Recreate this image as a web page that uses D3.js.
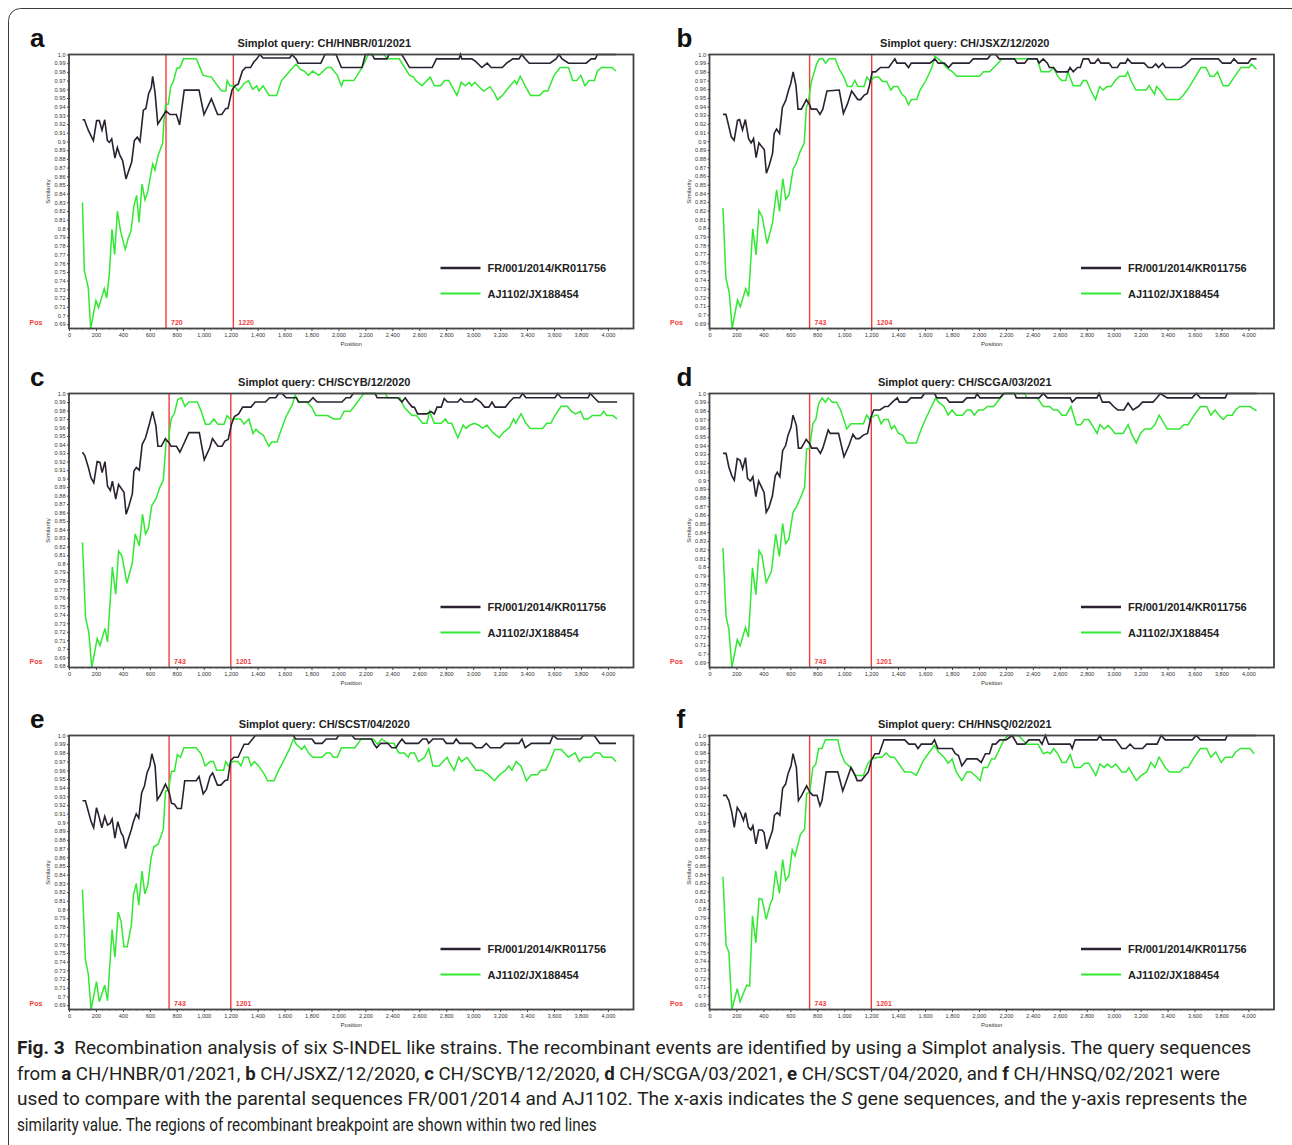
<!DOCTYPE html>
<html>
<head>
<meta charset="utf-8">
<script src="https://cdn.jsdelivr.net/npm/d3@7/dist/d3.min.js"></script>
<style>
  body { margin: 0; background: #fff; }
  svg { display: block; }
</style>
</head>
<body>
<script>
// similarity values, [position, similarity]
var frA = [[100,.925],[114,.925],[143,.913],[181,.901],[205,.924],[225,.924],[245,.913],[265,.925],[285,.901],[300,.899],[317,.903],[341,.881],[359,.893],[378,.884],[398,.878],[423,.857],[440,.865],[465,.876],[485,.901],[507,.905],[527,.900],[552,.936],[571,.938],[591,.955],[611,.962],[621,.975],[638,.957],[659,.920],[720,.935],[750,.931],[797,.931],[821,.919],[855,.959],[965,.959],[1002,.931],[1057,.949],[1103,.931],[1134,.931],[1164,.938],[1180,.938],[1210,.959],[1232,.964],[1256,.966],[1287,.981],[1311,.985],[1348,.985],[1370,.991],[1394,.995],[1416,1],[1440,.996],[1639,.996],[1655,1],[1685,.995],[1700,.99],[1869,.99],[1900,1],[1982,1],[2022,.985],[2175,.985],[2200,1],[2250,1],[2267,.995],[2360,.995],[2375,1],[2470,1],[2490,.995],[2528,.985],[2696,.985],[2727,.995],[2895,.995],[2905,1],[2915,.995],[2990,.995],[3018,.992],[3064,.985],[3104,.99],[3134,.985],[3217,.985],[3248,.99],[3294,.995],[3340,.995],[3361,1],[3386,.995],[3416,.99],[3570,.99],[3615,.995],[3637,1],[3660,.995],[3708,.99],[3839,.99],[3876,.995],[3906,.995],[3922,1],[4060,1]];
var ajA = [[100,.830],[114,.751],[143,.732],[161,.685],[200,.717],[220,.709],[262,.731],[280,.720],[299,.747],[319,.799],[339,.770],[359,.820],[383,.797],[418,.776],[440,.789],[460,.797],[482,.826],[502,.838],[520,.807],[542,.851],[564,.833],[584,.842],[606,.861],[621,.874],[638,.867],[661,.884],[695,.898],[705,.924],[717,.942],[737,.943],[755,.963],[775,.969],[800,.984],[823,.985],[850,.995],[945,.995],[996,.976],[1057,.974],[1103,.964],[1134,.958],[1164,.958],[1174,.970],[1195,.964],[1226,.964],[1256,.958],[1302,.967],[1333,.970],[1363,.960],[1394,.964],[1410,.958],[1440,.964],[1486,.953],[1541,.953],[1578,.970],[1639,.981],[1685,.989],[1716,.983],[1746,.981],[1777,.976],[1808,.981],[1854,.976],[1915,.985],[1946,.985],[1992,.976],[2022,.964],[2037,.970],[2114,.970],[2175,.985],[2221,1],[2340,1],[2360,.995],[2451,.995],[2528,.976],[2559,.974],[2574,.970],[2620,.964],[2681,.974],[2712,.964],[2758,.964],[2788,.970],[2819,.970],[2880,.953],[2911,.968],[2941,.964],[2972,.968],[2987,.964],[3012,.968],[3049,.962],[3079,.958],[3125,.963],[3156,.956],[3180,.948],[3217,.953],[3263,.962],[3309,.970],[3324,.966],[3349,.975],[3386,.964],[3425,.953],[3493,.953],[3524,.958],[3554,.958],[3600,.976],[3646,.985],[3708,.985],[3738,.970],[3769,.970],[3799,.976],[3830,.964],[3861,.970],[3900,.970],[3922,.981],[3953,.985],[4029,.985],[4060,.981]];

var frB = [[100,.931],[122,.931],[162,.905],[183,.901],[208,.924],[223,.925],[245,.913],[266,.925],[290,.903],[309,.898],[327,.903],[346,.881],[367,.898],[407,.890],[422,.863],[443,.872],[468,.886],[480,.909],[498,.914],[520,.909],[541,.939],[566,.947],[587,.959],[602,.966],[621,.980],[642,.964],[657,.937],[682,.937],[719,.948],[743,.942],[755,.937],[795,.937],[820,.931],[841,.937],[872,.958],[963,.959],[994,.932],[1024,.943],[1055,.958],[1101,.948],[1122,.948],[1147,.953],[1171,.955],[1187,.964],[1208,.980],[1232,.980],[1269,.985],[1330,.985],[1376,.995],[1391,.990],[1452,.990],[1477,.985],[1498,.990],[1636,.990],[1673,.995],[1697,.990],[1743,.990],[1774,.985],[1804,.990],[1927,.990],[1957,.995],[2064,.995],[2089,1],[2125,1],[2150,.995],[2263,.995],[2284,.990],[2339,.990],[2364,.995],[2431,.995],[2446,.990],[2477,.995],[2508,.990],[2523,.985],[2553,.985],[2578,.980],[2660,.980],[2676,.985],[2700,.980],[2731,.985],[2752,.985],[2774,.995],[2813,.995],[2829,.990],[2859,.990],[2884,.995],[2905,.990],[2966,.990],[2988,.985],[3027,.985],[3049,.990],[3088,.990],[3104,.995],[3134,.990],[3226,.990],[3257,.985],[3287,.985],[3312,.989],[3333,.985],[3364,.990],[3385,.985],[3501,.985],[3532,.988],[3578,.995],[3777,.995],[3807,.990],[3868,.990],[3893,.995],[3923,.990],[3997,.990],[4021,.995],[4060,.995]];
var ajB = [[100,.823],[122,.742],[147,.725],[168,.684],[208,.717],[229,.709],[269,.730],[290,.721],[321,.799],[346,.769],[367,.820],[391,.813],[428,.782],[468,.806],[498,.844],[520,.819],[544,.857],[566,.833],[590,.838],[621,.868],[642,.874],[673,.888],[703,.898],[719,.939],[734,.945],[755,.968],[774,.978],[795,.989],[816,.995],[841,.995],[862,.990],[887,.995],[933,.995],[963,.983],[994,.975],[1024,.963],[1055,.963],[1079,.970],[1101,.963],[1147,.963],[1168,.974],[1193,.969],[1223,.974],[1254,.974],[1284,.969],[1315,.969],[1346,.959],[1367,.963],[1398,.963],[1428,.954],[1452,.951],[1477,.942],[1498,.948],[1538,.948],[1560,.958],[1606,.970],[1651,.985],[1673,.998],[1697,.995],[1728,.991],[1758,.985],[1804,.980],[1835,.975],[2003,.975],[2034,.980],[2079,.980],[2110,.985],[2141,.990],[2171,.995],[2431,.995],[2462,.980],[2523,.980],[2553,.985],[2584,.975],[2615,.970],[2645,.970],[2660,.980],[2700,.964],[2752,.964],[2774,.970],[2798,.970],[2829,.959],[2865,.948],[2896,.963],[2920,.959],[2951,.963],[2981,.963],[3012,.970],[3043,.975],[3088,.975],[3104,.980],[3128,.970],[3165,.959],[3242,.959],[3263,.964],[3303,.954],[3318,.963],[3343,.959],[3394,.948],[3486,.948],[3517,.953],[3563,.963],[3609,.975],[3648,.985],[3685,.985],[3716,.975],[3746,.975],[3770,.980],[3813,.964],[3853,.964],[3899,.975],[3945,.985],[4006,.985],[4021,.989],[4060,.983]];

var frC = [[100,.931],[117,.927],[144,.913],[163,.901],[184,.895],[209,.920],[230,.919],[246,.907],[267,.920],[286,.891],[307,.886],[322,.897],[347,.876],[368,.893],[408,.884],[424,.858],[445,.868],[470,.882],[482,.909],[500,.913],[522,.910],[543,.940],[568,.948],[593,.962],[620,.979],[645,.962],[660,.938],[685,.938],[715,.947],[743,.942],[758,.938],[798,.938],[823,.931],[844,.938],[890,.954],[967,.954],[1004,.922],[1044,.936],[1065,.947],[1105,.938],[1136,.938],[1157,.944],[1182,.946],[1206,.964],[1228,.973],[1259,.976],[1289,.984],[1351,.984],[1382,.990],[1458,.990],[1489,.995],[1535,.995],[1556,1],[1581,1],[1612,.995],[1688,.995],[1704,.990],[1781,.990],[1811,.995],[1842,.990],[2026,.990],[2057,.995],[2088,.995],[2109,1],[2272,1],[2287,.995],[2441,.995],[2471,.990],[2496,.995],[2517,.990],[2548,.984],[2563,.984],[2588,.976],[2656,.976],[2686,.979],[2711,.976],[2732,.984],[2763,.984],[2785,.994],[2809,.990],[2886,.990],[2907,.994],[2932,.990],[2993,.990],[3018,.994],[3055,.990],[3085,.984],[3116,.984],[3140,.990],[3162,.984],[3239,.984],[3269,.990],[3300,.995],[3346,.995],[3367,1],[3392,.995],[3607,.995],[3628,1],[3653,.995],[3853,.995],[3868,1],[3899,.995],[3930,.990],[4068,.990]];
var ajC = [[100,.825],[123,.737],[147,.719],[169,.678],[209,.712],[230,.704],[267,.724],[286,.708],[322,.796],[347,.764],[368,.815],[393,.809],[430,.777],[470,.801],[491,.835],[522,.821],[546,.858],[568,.835],[589,.841],[614,.868],[645,.876],[675,.890],[700,.898],[721,.944],[737,.944],[758,.970],[783,.977],[807,.993],[835,.995],[860,.985],[890,.990],[952,.990],[982,.979],[1013,.964],[1044,.964],[1075,.970],[1105,.964],[1151,.964],[1173,.974],[1197,.970],[1274,.970],[1299,.964],[1335,.970],[1366,.953],[1388,.958],[1412,.954],[1443,.951],[1483,.938],[1504,.943],[1544,.943],[1581,.960],[1612,.973],[1658,.987],[1679,.998],[1704,.990],[1765,.990],[1801,.984],[1833,.974],[1919,.974],[1965,.970],[2011,.970],[2042,.979],[2088,.979],[2118,.985],[2164,.995],[2189,1],[2349,1],[2364,.995],[2456,.995],[2487,.984],[2517,.979],[2548,.974],[2579,.974],[2625,.965],[2656,.965],[2677,.979],[2711,.965],[2763,.965],[2794,.970],[2815,.965],[2840,.965],[2886,.948],[2926,.963],[2947,.959],[2978,.963],[3009,.965],[3039,.963],[3070,.959],[3101,.963],[3147,.954],[3193,.948],[3223,.954],[3269,.960],[3300,.970],[3315,.965],[3355,.976],[3392,.965],[3423,.959],[3515,.959],[3546,.965],[3576,.965],[3607,.974],[3653,.985],[3699,.985],[3730,.979],[3760,.976],[3797,.979],[3822,.970],[3853,.970],[3884,.974],[3945,.974],[3969,.979],[3991,.974],[4037,.974],[4068,.970]];

var frD = [[100,.931],[123,.931],[144,.915],[166,.905],[184,.900],[206,.925],[227,.923],[246,.913],[267,.926],[282,.902],[304,.899],[322,.904],[344,.881],[365,.899],[405,.886],[421,.863],[442,.869],[467,.882],[488,.905],[503,.909],[522,.904],[543,.934],[565,.940],[583,.952],[605,.961],[620,.975],[645,.963],[660,.937],[681,.937],[718,.947],[743,.942],[758,.937],[798,.937],[823,.931],[841,.937],[881,.958],[896,.954],[958,.954],[998,.927],[1035,.940],[1065,.953],[1087,.948],[1111,.948],[1142,.952],[1173,.954],[1197,.972],[1219,.981],[1265,.981],[1302,.985],[1326,.985],[1357,.990],[1394,.995],[1409,.990],[1464,.990],[1495,.995],[1572,.995],[1596,1],[1670,1],[1688,.995],[1756,.995],[1781,.990],[1879,.990],[1910,.995],[1971,.995],[1986,1],[2008,.995],[2155,.995],[2186,1],[2263,1],[2278,.995],[2447,.995],[2478,1],[2508,.995],[2677,.995],[2692,.990],[2723,.995],[2876,.995],[2892,1],[2916,.990],[2969,.990],[2999,.985],[3030,.981],[3076,.981],[3107,.989],[3143,.981],[3183,.985],[3214,.990],[3291,.990],[3321,.995],[3346,1],[3398,.995],[3582,.995],[3613,1],[3644,.995],[3828,.995],[3843,1],[4060,1]];
var ajD = [[100,.822],[123,.743],[144,.728],[166,.684],[206,.716],[227,.709],[267,.730],[289,.719],[319,.799],[344,.768],[368,.819],[390,.813],[421,.782],[460,.795],[491,.838],[519,.812],[543,.850],[565,.827],[589,.832],[620,.863],[645,.869],[681,.882],[706,.892],[721,.936],[743,.937],[767,.965],[789,.970],[810,.988],[835,.995],[860,.990],[881,.995],[912,.990],[942,.990],[973,.981],[1019,.959],[1050,.965],[1142,.965],[1167,.975],[1188,.970],[1228,.975],[1249,.975],[1274,.965],[1295,.970],[1326,.970],[1351,.959],[1372,.963],[1403,.954],[1434,.952],[1464,.943],[1535,.943],[1572,.959],[1602,.970],[1648,.985],[1679,.995],[1700,.990],[1740,.985],[1771,.975],[1801,.981],[1832,.975],[1879,.975],[1910,.981],[1940,.981],[1965,.975],[1996,.981],[2032,.981],[2063,.985],[2109,.985],[2186,1],[2340,1],[2355,.995],[2432,.995],[2478,.985],[2524,.985],[2554,.981],[2585,.981],[2616,.975],[2646,.975],[2683,.985],[2723,.964],[2754,.964],[2784,.970],[2815,.970],[2877,.954],[2898,.964],[2929,.959],[2959,.963],[2984,.959],[3009,.954],[3070,.954],[3107,.964],[3137,.952],[3168,.943],[3199,.954],[3230,.959],[3276,.959],[3306,.964],[3337,.975],[3398,.959],[3490,.959],[3521,.964],[3552,.964],[3598,.975],[3644,.985],[3690,.985],[3721,.975],[3752,.981],[3782,.975],[3813,.970],[3843,.975],[3880,.975],[3905,.981],[3935,.985],[4012,.985],[4060,.980]];

var frE = [[100,.925],[122,.925],[143,.913],[164,.901],[183,.894],[204,.917],[219,.909],[244,.894],[265,.907],[286,.897],[305,.899],[320,.904],[341,.882],[362,.901],[387,.888],[402,.884],[420,.870],[438,.880],[463,.892],[478,.901],[499,.910],[518,.905],[539,.934],[560,.942],[579,.957],[600,.965],[615,.979],[639,.965],[655,.926],[676,.931],[716,.944],[743,.935],[761,.922],[783,.921],[804,.916],[834,.916],[859,.948],[944,.948],[965,.953],[996,.933],[1020,.938],[1047,.953],[1066,.957],[1102,.943],[1127,.943],[1157,.948],[1178,.949],[1200,.971],[1224,.975],[1255,.975],[1300,.990],[1331,.990],[1383,1],[1666,1],[1681,.996],[1803,.996],[1827,.991],[1879,.991],[1909,.996],[1985,.996],[2001,1],[2101,1],[2122,.996],[2244,.996],[2265,.990],[2284,.986],[2314,.991],[2366,.991],[2396,.986],[2427,.986],[2448,.991],[2472,.996],[2497,.991],[2594,.991],[2625,.996],[2655,.996],[2670,.991],[2701,.996],[2777,.996],[2801,.991],[2853,.991],[2874,.996],[2899,.991],[2990,.991],[3021,.986],[3066,.986],[3097,.991],[3127,.986],[3203,.986],[3234,.991],[3340,.991],[3362,.996],[3386,.986],[3432,.991],[3569,.991],[3593,1],[3624,.996],[3797,.996],[3818,1],[3898,1],[3940,.991],[4060,.991]];
var ajE = [[100,.823],[122,.742],[143,.726],[164,.685],[204,.717],[225,.694],[265,.713],[286,.695],[320,.777],[341,.745],[365,.797],[387,.786],[408,.757],[432,.757],[463,.782],[478,.816],[499,.830],[518,.805],[542,.844],[563,.818],[585,.828],[609,.859],[630,.872],[661,.875],[700,.892],[716,.936],[737,.937],[761,.959],[783,.959],[804,.978],[828,.975],[853,.986],[944,.986],[980,.979],[1011,.965],[1047,.970],[1072,.970],[1096,.960],[1148,.960],[1163,.970],[1185,.965],[1215,.970],[1255,.970],[1276,.965],[1300,.975],[1331,.975],[1352,.965],[1376,.970],[1407,.965],[1452,.955],[1474,.948],[1522,.948],[1553,.959],[1590,.970],[1635,.984],[1666,.996],[1687,.990],[1727,.984],[1748,.988],[1778,.980],[1809,.975],[1879,.975],[1909,.980],[1940,.980],[1961,.975],[1991,.975],[2022,.986],[2122,.986],[2168,.996],[2259,.996],[2290,.990],[2320,.996],[2366,.991],[2412,.991],[2448,.980],[2488,.980],[2518,.975],[2533,.980],[2564,.980],[2594,.970],[2640,.975],[2670,.985],[2701,.965],[2747,.965],[2777,.970],[2807,.975],[2823,.969],[2859,.960],[2893,.975],[2914,.970],[2954,.975],[2975,.970],[3021,.960],[3066,.960],[3112,.955],[3158,.948],[3197,.955],[3240,.960],[3264,.965],[3288,.960],[3319,.970],[3355,.965],[3395,.948],[3432,.955],[3477,.955],[3502,.960],[3539,.960],[3569,.970],[3605,.984],[3654,.984],[3706,.975],[3757,.980],[3788,.970],[3818,.975],[3873,.975],[3903,.980],[3940,.980],[3964,.975],[4030,.975],[4060,.970]];

var frF = [[100,.931],[123,.931],[144,.925],[166,.911],[184,.894],[206,.917],[227,.912],[252,.902],[267,.911],[289,.894],[307,.891],[322,.896],[344,.875],[365,.891],[390,.891],[405,.888],[424,.869],[442,.879],[467,.890],[482,.908],[503,.911],[522,.908],[543,.939],[565,.944],[583,.956],[605,.965],[620,.979],[645,.963],[660,.925],[681,.930],[721,.942],[743,.935],[767,.931],[798,.931],[820,.919],[835,.925],[866,.958],[952,.958],[989,.936],[1019,.949],[1050,.963],[1081,.954],[1096,.948],[1127,.948],[1157,.954],[1179,.958],[1203,.972],[1228,.979],[1259,.979],[1295,.995],[1449,.995],[1480,.990],[1526,.990],[1547,.985],[1572,.990],[1649,.990],[1670,.995],[1695,.985],[1802,.985],[1824,.979],[1848,.977],[1873,.965],[1910,.973],[1986,.973],[2017,.969],[2048,.979],[2078,.979],[2100,.990],[2124,.990],[2155,.995],[2201,.995],[2247,1],[2284,.990],[2340,.990],[2370,.995],[2447,.995],[2468,.990],[2493,1],[2517,.990],[2677,.990],[2692,.985],[2714,.995],[2877,.995],[2898,1],[2916,.995],[3015,.995],[3061,.985],[3091,.985],[3122,.990],[3153,.985],[3214,.985],[3245,.990],[3322,.990],[3352,1],[3383,.995],[3583,.995],[3613,1],[3644,.995],[3828,.995],[3843,1],[4060,1]];
var ajF = [[100,.837],[123,.758],[144,.750],[166,.684],[206,.708],[227,.693],[276,.712],[298,.711],[319,.792],[344,.761],[368,.812],[390,.811],[421,.788],[451,.806],[467,.811],[491,.844],[519,.818],[543,.857],[565,.833],[589,.838],[614,.868],[635,.861],[675,.886],[706,.892],[721,.933],[743,.934],[767,.963],[789,.967],[810,.985],[835,.985],[860,.995],[952,.995],[973,.981],[1004,.969],[1050,.963],[1081,.954],[1142,.954],[1173,.967],[1203,.973],[1249,.975],[1280,.975],[1311,.980],[1341,.975],[1372,.975],[1403,.968],[1449,.958],[1495,.958],[1535,.954],[1587,.971],[1633,.981],[1670,.989],[1700,.981],[1740,.975],[1771,.968],[1801,.973],[1832,.958],[1873,.948],[1910,.958],[1940,.958],[1977,.953],[2008,.948],[2032,.963],[2063,.963],[2094,.973],[2118,.973],[2155,.985],[2186,.995],[2216,1],[2293,1],[2324,.995],[2355,.990],[2438,.990],[2478,.979],[2508,.981],[2530,.979],[2554,.985],[2585,.979],[2616,.969],[2646,.969],[2677,.978],[2708,.963],[2754,.963],[2784,.968],[2815,.968],[2867,.954],[2898,.967],[2929,.963],[2953,.967],[2984,.963],[3015,.967],[3061,.958],[3091,.958],[3113,.963],[3168,.948],[3205,.954],[3245,.958],[3276,.969],[3306,.963],[3337,.975],[3383,.963],[3414,.958],[3490,.958],[3521,.963],[3552,.963],[3598,.975],[3644,.985],[3690,.985],[3721,.975],[3758,.981],[3798,.969],[3828,.975],[3880,.975],[3905,.981],[3942,.985],[4012,.985],[4043,.979]];

var panelLetters = ['a', 'b', 'c', 'd', 'e', 'f'];
var queries = ['CH/HNBR/01/2021', 'CH/JSXZ/12/2020', 'CH/SCYB/12/2020', 'CH/SCGA/03/2021', 'CH/SCST/04/2020', 'CH/HNSQ/02/2021'];
var breakpoints = [[720, 1220], [743, 1204], [743, 1201], [743, 1201], [743, 1201], [743, 1201]];
var seriesNames = ['FR/001/2014/KR011756', 'AJ1102/JX188454'];
var frSeries = [frA, frB, frC, frD, frE, frF];
var ajSeries = [ajA, ajB, ajC, ajD, ajE, ajF];
var xTicks = d3.range(0, 4001, 200);

var width = 1292, height = 1145;
var fontAxis = "'Liberation Sans', Arial, sans-serif";

var svg = d3.select('body')
    .append('svg')
    .attr('width', width)
    .attr('height', height);

// outer frame of the figure
svg.append('rect')
    .attr('x', 8.5).attr('y', 8.5)
    .attr('width', 1300).attr('height', 1200)
    .attr('rx', 12)
    .attr('fill', 'none')
    .attr('stroke', '#3c3c3c')
    .attr('stroke-width', 1);

var colLeft = [69, 709.5],
    rowTop = [54.5, 393.5, 735.5],
    pw = 564.5,
    ph = 274;

var lineColor = '#2a2230',
    greenColor = '#33e833',
    redColor = '#f03c3c';

panelLetters.forEach(function(letter, i) {
    var col = i % 2, row = Math.floor(i / 2);
    var left = colLeft[col], top = rowTop[row];

    var fr = frSeries[i], aj = ajSeries[i];
    var yMin = d3.min(fr.concat(aj), function(d) { return d[1]; });

    var x = d3.scaleLinear().domain([0, 4190]).range([0, pw]);
    var y = d3.scaleLinear().domain([yMin, 1]).range([ph, 0]);

    var g = svg.append('g').attr('transform', 'translate(' + left + ',' + top + ')');

    // panel letter + title
    svg.append('text')
        .attr('x', left - (col === 0 ? 39 : 33))
        .attr('y', top - 8)
        .attr('font-family', fontAxis)
        .attr('font-weight', 'bold')
        .attr('font-size', 26)
        .attr('fill', '#111')
        .text(letter);

    svg.append('text')
        .attr('x', left + pw / 2 - 27)
        .attr('y', top - 7.5)
        .attr('text-anchor', 'middle')
        .attr('font-family', fontAxis)
        .attr('font-weight', 'bold')
        .attr('font-size', 11)
        .attr('fill', '#222')
        .text('Simplot query: ' + queries[i]);

    // breakpoints
    breakpoints[i].forEach(function(bp) {
        g.append('line')
            .attr('x1', x(bp)).attr('x2', x(bp))
            .attr('y1', 0).attr('y2', ph)
            .attr('stroke', redColor)
            .attr('stroke-width', 1.4);
        g.append('text')
            .attr('x', x(bp) + 5)
            .attr('y', ph - 3.5)
            .attr('font-family', fontAxis)
            .attr('font-weight', 'bold')
            .attr('font-size', 7)
            .attr('fill', redColor)
            .text(bp);
    });

    var line = d3.line()
        .x(function(d) { return x(d[0]); })
        .y(function(d) { return y(d[1]); });

    g.append('path')
        .datum(aj)
        .attr('d', line)
        .attr('fill', 'none')
        .attr('stroke', greenColor)
        .attr('stroke-width', 1.5);

    g.append('path')
        .datum(fr)
        .attr('d', line)
        .attr('fill', 'none')
        .attr('stroke', lineColor)
        .attr('stroke-width', 1.6);

    // plot frame
    g.append('rect')
        .attr('x', 0).attr('y', 0)
        .attr('width', pw).attr('height', ph)
        .attr('fill', 'none')
        .attr('stroke', '#444')
        .attr('stroke-width', 1.8);

    // y axis
    var yTicks = d3.range(Math.ceil(yMin * 100 - 1e-6), 101).map(function(v) { return v / 100; });
    var yAxis = d3.axisLeft(y)
        .tickValues(yTicks)
        .tickSize(2)
        .tickPadding(1.5)
        .tickFormat(function(v) { return v >= 1 ? '1.0' : String(+v.toFixed(2)); });
    var ya = g.append('g').call(yAxis);
    ya.select('.domain').remove();
    ya.selectAll('text').attr('font-size', 5.6).attr('font-family', fontAxis).attr('fill', '#333');
    ya.selectAll('line').attr('stroke', '#444');

    // x axis
    var xAxis = d3.axisBottom(x)
        .tickValues(xTicks)
        .tickSize(2.5)
        .tickPadding(2)
        .tickFormat(d3.format(','));
    var xa = g.append('g').attr('transform', 'translate(0,' + ph + ')').call(xAxis);
    xa.select('.domain').remove();
    xa.selectAll('text').attr('font-size', 5.6).attr('font-family', fontAxis).attr('fill', '#333');
    xa.selectAll('line').attr('stroke', '#444');

    var minor = d3.range(50, 4190, 50).filter(function(v) { return v % 200 !== 0; });
    g.append('g').selectAll('line')
        .data(minor)
        .enter()
        .append('line')
        .attr('x1', function(d) { return x(d); })
        .attr('x2', function(d) { return x(d); })
        .attr('y1', ph).attr('y2', ph + 1.5)
        .attr('stroke', '#666')
        .attr('stroke-width', 0.8);

    g.append('text')
        .attr('x', pw / 2)
        .attr('y', ph + 17)
        .attr('text-anchor', 'middle')
        .attr('font-family', fontAxis)
        .attr('font-size', 6)
        .attr('fill', '#333')
        .text('Position');

    g.append('text')
        .attr('transform', 'translate(-19,' + (ph / 2) + ') rotate(-90)')
        .attr('text-anchor', 'middle')
        .attr('font-family', fontAxis)
        .attr('font-size', 6)
        .attr('fill', '#333')
        .text('Similarity');

    g.append('text')
        .attr('x', -33)
        .attr('y', ph - 3.5)
        .attr('text-anchor', 'middle')
        .attr('font-family', fontAxis)
        .attr('font-weight', 'bold')
        .attr('font-size', 7)
        .attr('fill', redColor)
        .text('Pos');

    // legend
    var legend = g.append('g').attr('transform', 'translate(' + (pw - 193) + ',' + (ph - 60.5) + ')');
    [lineColor, greenColor].forEach(function(c, k) {
        legend.append('line')
            .attr('x1', 0).attr('x2', 40)
            .attr('y1', k * 25.5).attr('y2', k * 25.5)
            .attr('stroke', c)
            .attr('stroke-width', k === 0 ? 2.6 : 2.2);
        legend.append('text')
            .attr('x', 47)
            .attr('y', k * 25.5 + 4)
            .attr('font-family', fontAxis)
            .attr('font-weight', 'bold')
            .attr('font-size', 11)
            .attr('fill', '#222')
            .text(seriesNames[k]);
    });
});

// caption, one text element per printed line, squeezed horizontally to the printed width
var capFont = "'Liberation Sans Narrow', Roboto, 'Liberation Sans', sans-serif";
var captionLines = [
    {y: 1054, w: 1235, parts: [['Fig. 3', 'b'], ['\u00a0 Recombination analysis of six S-INDEL like strains. The recombinant events are identified by using a Simplot analysis. The query sequences', '']]},
    {y: 1079.5, w: 1204, parts: [['from ', ''], ['a', 'b'], [' CH/HNBR/01/2021, ', ''], ['b', 'b'], [' CH/JSXZ/12/2020, ', ''], ['c', 'b'], [' CH/SCYB/12/2020, ', ''], ['d', 'b'], [' CH/SCGA/03/2021, ', ''], ['e', 'b'], [' CH/SCST/04/2020, and ', ''], ['f', 'b'], [' CH/HNSQ/02/2021 were', '']]},
    {y: 1105, w: 1230, parts: [['used to compare with the parental sequences FR/001/2014 and AJ1102. The x-axis indicates the ', ''], ['S', 'i'], [' gene sequences, and the y-axis represents the', '']]},
    {y: 1130.5, w: 580, parts: [['similarity value. The regions of recombinant breakpoint are shown within two red lines', '']]}
];

captionLines.forEach(function(ln) {
    var t = svg.append('text')
        .attr('x', 0)
        .attr('y', 0)
        .attr('font-family', capFont)
        .attr('font-size', 19)
        .attr('fill', '#231f20');
    ln.parts.forEach(function(p) {
        t.append('tspan')
            .attr('font-weight', p[1] === 'b' ? 'bold' : null)
            .attr('font-style', p[1] === 'i' ? 'italic' : null)
            .text(p[0]);
    });
    var natural = t.node().getComputedTextLength();
    var sx = natural > 0 ? ln.w / natural : 1;
    t.attr('transform', 'translate(17,' + ln.y + ') scale(' + sx + ',1)');
});
</script>
</body>
</html>
